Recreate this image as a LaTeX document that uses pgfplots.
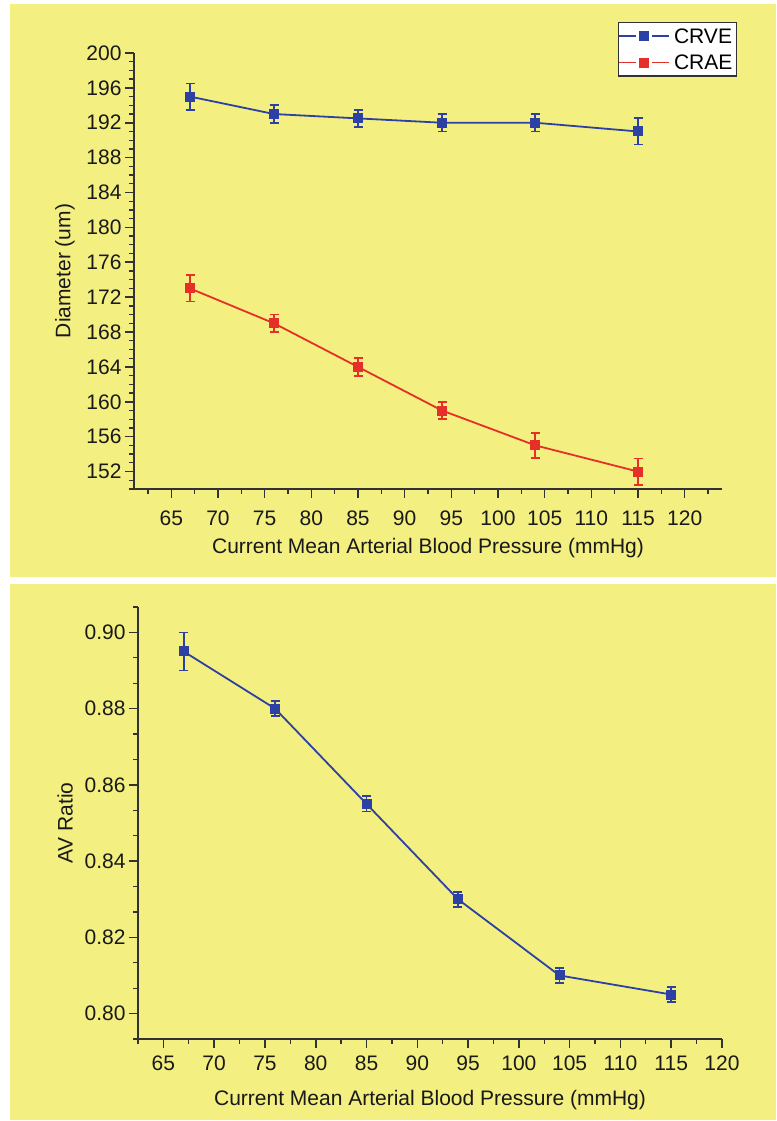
\documentclass[border=0pt]{standalone}
\usepackage{fontspec}
\setmainfont{Liberation Sans}
\usepackage{pgfplots}
\pgfplotsset{compat=1.18}
\definecolor{bgyellow}{RGB}{243,239,128}
\definecolor{cblue}{RGB}{45,65,165}
\definecolor{cred}{RGB}{228,48,40}
\definecolor{axgray}{RGB}{50,50,50}
\newcommand{\bigf}{\fontsize{21}{25}\selectfont}
\pgfplotsset{
 myaxis/.style={
  scale only axis,
  axis x line*=bottom, axis y line*=left,
  axis line style={axgray, line width=1.6pt},
  tick align=outside,
  major tick length=9pt, minor tick length=5pt,
  every tick/.style={axgray, line width=1.6pt},
  every minor tick/.style={axgray, line width=1.3pt},
  /pgf/number format/assume math mode=true,
  ticklabel style={font=\bigf, text=black!90},
  label style={font=\bigf, text=black!90},
  xtick={65,70,75,80,85,90,95,100,105,110,115,120},
  xticklabels={65,70,75,80,85,90,95,100,105,110,115,120},
  clip=false,
 },
 blueplot/.style={cblue, line width=1.8pt, mark=square*, mark size=4.5pt,
   mark options={solid, line width=1pt, fill=cblue, draw=cblue},
   error bars/.cd, y dir=both, y explicit,
   error bar style={line width=1.8pt, cblue},
   error mark options={rotate=90, mark size=4.5pt, line width=1.8pt, cblue}},
 redplot/.style={cred, line width=1.8pt, mark=square*, mark size=4.5pt,
   mark options={solid, line width=1pt, fill=cred, draw=cred},
   error bars/.cd, y dir=both, y explicit,
   error bar style={line width=1.8pt, cred},
   error mark options={rotate=90, mark size=4.5pt, line width=1.8pt, cred}},
}
\begin{document}
\begin{tikzpicture}[x=1pt,y=1pt]
\fill[white] (0,0) rectangle (776,1121);
\fill[bgyellow] (10,544) rectangle (776,1117);
\fill[bgyellow] (10,1) rectangle (776,537);

\begin{axis}[myaxis, at={(134pt,632pt)}, anchor=south west,
  width=588pt, height=436pt,
  xmin=61, xmax=124, ymin=150, ymax=200,
  ytick={152,156,160,164,168,172,176,180,184,188,192,196,200},
  minor ytick={150,151,...,200},
  minor xtick={62.5,67.5,72.5,77.5,82.5,87.5,92.5,97.5,102.5,107.5,112.5,117.5,122.5},
  xticklabel style={anchor=base, yshift=-28pt},
  xlabel={Current Mean Arterial Blood Pressure (mmHg)},
  ylabel={Diameter (um)},
  xlabel style={at={(axis description cs:0.5,-0.149)}, anchor=base},
  ylabel style={at={(axis description cs:-0.1173,0.5)}, anchor=center},
  legend cell align=left,
  legend image code/.code={
    \draw[#1,mark=none] (0pt,0pt)--(17pt,0pt) (33pt,0pt)--(50pt,0pt);
    \draw[#1] plot coordinates {(25pt,0pt)};},
  legend style={at={(1.0255,1.0711)}, anchor=north east, draw=axgray, line width=1.2pt,
    fill=white, font=\bigf, inner xsep=0pt, inner ysep=1pt, row sep=2pt,
    nodes={inner xsep=4pt, inner ysep=5pt, text depth=0pt}},
]
\addplot[blueplot] coordinates {
 (67,195) +- (0,1.5)
 (76,193) +- (0,1)
 (85,192.5) +- (0,1)
 (94,192) +- (0,1)
 (104,192) +- (0,1)
 (115,191) +- (0,1.5)
};
\addlegendentry{CRVE}
\addplot[redplot] coordinates {
 (67,173) +- (0,1.5)
 (76,169) +- (0,1)
 (85,164) +- (0,1)
 (94,159) +- (0,1)
 (104,155) +- (0,1.4)
 (115,152) +- (0,1.5)
};
\addlegendentry{CRAE}
\end{axis}

\begin{axis}[myaxis, at={(138pt,82pt)}, anchor=south west,
  width=584pt, height=432pt,
  xmin=62.5, xmax=120, ymin=0.79333, ymax=0.90667,
  ytick={0.80,0.82,0.84,0.86,0.88,0.90},
  minor ytick={0.79333,0.80667,0.81333,0.82667,0.83333,0.84667,0.85333,0.86667,0.87333,0.88667,0.89333,0.90667},
  minor xtick={62.5,67.5,72.5,77.5,82.5,87.5,92.5,97.5,102.5,107.5,112.5,117.5},
  yticklabel style={/pgf/number format/.cd, fixed, fixed zerofill, precision=2},
  xticklabel style={anchor=base, yshift=-22.5pt},
  xlabel={Current Mean Arterial Blood Pressure (mmHg)},
  ylabel={AV Ratio},
  xlabel style={at={(axis description cs:0.5,-0.1528)}, anchor=base},
  ylabel style={at={(axis description cs:-0.125,0.5)}, anchor=center},
]
\addplot[blueplot] coordinates {
 (67,0.895) +- (0,0.005)
 (76,0.880) +- (0,0.002)
 (85,0.855) +- (0,0.002)
 (94,0.830) +- (0,0.002)
 (104,0.810) +- (0,0.002)
 (115,0.805) +- (0,0.002)
};
\end{axis}
\end{tikzpicture}
\end{document}
